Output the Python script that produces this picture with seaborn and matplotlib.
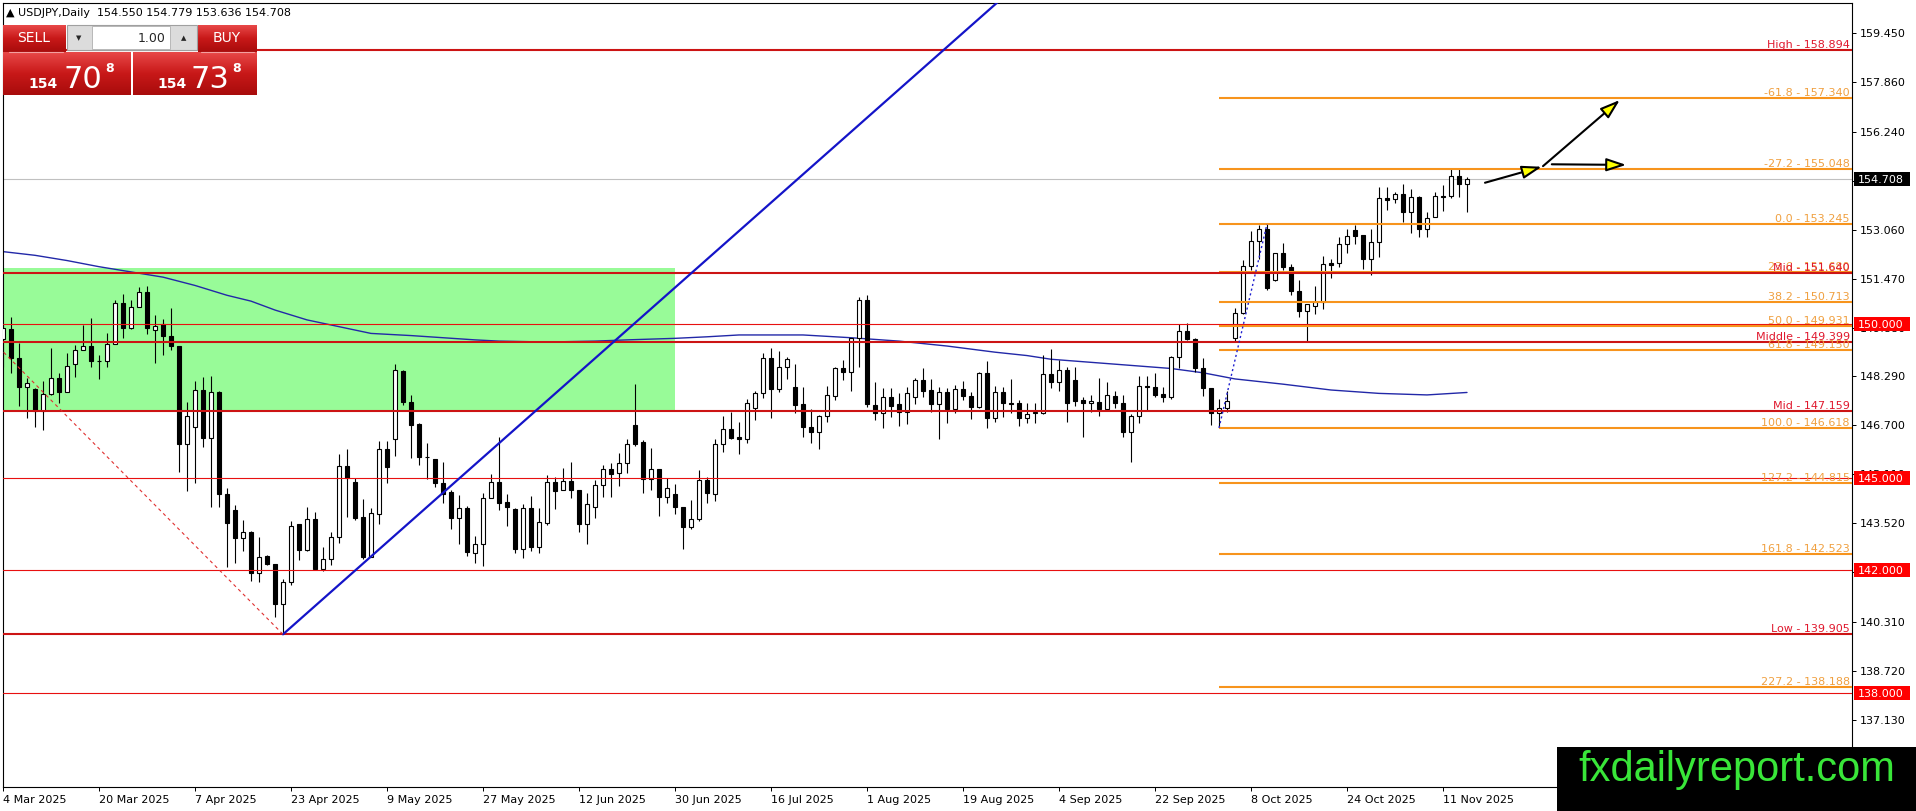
import numpy as np
import pandas as pd
import matplotlib
matplotlib.use('Agg')
import matplotlib.pyplot as plt
from matplotlib.patches import Rectangle
from matplotlib.colors import LinearSegmentedColormap
import seaborn as sns

# USDJPY daily candles, 4 Mar 2025 .. 14 Nov 2025
opens = [149.50, 149.82, 148.88, 147.96, 147.88, 147.18, 147.71, 148.23, 147.77, 148.68,
         149.14, 149.27, 148.80, 148.78, 149.335, 150.67, 149.88, 150.54, 151.03, 149.80,
         150.00, 149.62, 149.29, 146.08, 146.64, 147.84, 146.28, 147.77, 144.46, 143.95,
         143.03, 143.22, 141.89, 142.45, 142.18, 140.88, 141.60, 143.48, 142.65, 143.65,
         142.02, 142.34, 143.08, 145.39, 144.85, 143.71, 142.41, 143.81, 145.92, 146.25,
         148.47, 147.47, 146.74, 145.68, 145.60, 144.84, 144.52, 143.68, 144.00, 142.54,
         142.83, 144.33, 144.85, 144.20, 143.97, 142.68, 144.00, 142.76, 143.52, 144.85,
         144.60, 144.89, 144.60, 143.48, 144.03, 144.76, 145.27, 145.14, 145.47, 146.71,
         146.15, 144.94, 145.27, 144.38, 144.47, 144.03, 143.41, 143.64, 144.92, 144.46,
         146.08, 146.58, 146.33, 146.245, 147.25, 147.74, 148.88, 147.87, 148.59, 147.94,
         147.39, 146.66, 146.50, 147.00, 147.67, 148.55, 148.45, 149.53, 150.78, 147.36,
         147.09, 147.61, 147.38, 147.12, 147.63, 148.18, 147.85, 147.38, 147.77, 147.22,
         147.87, 147.665, 147.31, 148.39, 146.93, 147.77, 147.42, 147.42, 146.93, 147.09,
         147.11, 148.36, 148.10, 148.50, 148.18, 147.53, 147.42, 147.45, 147.22, 147.66,
         147.42, 146.47, 147.00, 147.99, 147.94, 147.71, 147.63, 148.91, 149.78, 149.51,
         148.58, 147.90, 147.11, 147.25, 149.53, 150.34, 151.89, 152.70, 153.09, 151.43,
         152.29, 151.84, 151.07, 150.43, 150.58, 150.72, 151.97, 151.97, 152.59, 153.05,
         152.89, 152.10, 152.65, 154.08, 154.05, 154.21, 153.65, 154.12, 153.08, 153.47,
         154.16, 154.16, 154.81, 154.55]
highs = [149.95, 150.21, 149.39, 148.23, 147.90, 148.14, 149.23, 148.39, 149.04, 149.31,
         149.96, 150.18, 148.99, 149.69, 150.78, 150.96, 150.78, 151.21, 151.23, 150.29,
         150.15, 150.51, 149.29, 147.45, 148.15, 148.28, 148.30, 147.83, 144.65, 144.11,
         143.62, 143.28, 143.08, 142.48, 142.18, 141.72, 143.59, 143.48, 144.03, 143.89,
         142.76, 143.22, 145.77, 145.92, 144.98, 144.29, 144.00, 146.19, 146.20, 148.69,
         148.50, 147.69, 146.77, 146.12, 145.60, 145.52, 144.60, 144.44, 144.09, 143.10,
         144.49, 145.12, 146.31, 144.46, 144.00, 144.14, 144.40, 144.00, 145.09, 145.01,
         145.32, 145.50, 144.60, 144.49, 144.92, 145.41, 145.46, 145.79, 146.26, 148.04,
         146.22, 145.95, 145.27, 144.98, 144.79, 144.05, 144.27, 145.25, 145.03, 146.26,
         147.00, 147.14, 146.80, 147.56, 147.82, 149.04, 149.20, 149.12, 148.91, 148.70,
         147.96, 147.22, 147.04, 147.98, 148.59, 148.83, 149.55, 150.89, 150.94, 148.12,
         147.90, 147.93, 147.74, 147.94, 148.25, 148.555, 148.21, 147.96, 147.93, 148.01,
         148.14, 147.80, 148.45, 148.79, 147.98, 147.96, 148.21, 147.53, 147.42, 147.42,
         148.99, 149.18, 148.83, 148.59, 148.59, 147.63, 147.69, 148.25, 148.10, 147.82,
         147.69, 147.06, 148.31, 148.31, 148.39, 147.96, 148.97, 149.99, 150.02, 149.53,
         148.88, 147.93, 147.55, 147.82, 150.51, 152.08, 153.02, 153.22, 153.245, 152.30,
         152.62, 151.94, 151.43, 150.66, 151.23, 152.21, 152.10, 152.84, 153.08, 153.22,
         152.89, 153.09, 154.46, 154.46, 154.30, 154.54, 154.38, 154.16, 153.63, 154.28,
         154.52, 155.03, 155.03, 154.779]
lows = [148.60, 148.41, 147.34, 146.95, 146.66, 146.55, 147.69, 147.44, 147.77, 148.28,
        149.14, 148.61, 148.20, 148.61, 149.335, 149.55, 149.82, 150.54, 149.67, 148.72,
        148.99, 149.15, 145.19, 144.58, 144.84, 145.99, 144.03, 144.03, 142.08, 142.24,
        142.63, 141.65, 141.62, 142.16, 140.48, 139.905, 141.51, 142.32, 142.63, 142.00,
        141.98, 142.16, 142.89, 143.73, 143.62, 142.34, 142.41, 143.49, 144.84, 145.70,
        147.36, 145.63, 145.41, 144.95, 144.69, 144.17, 143.32, 142.83, 142.45, 142.23,
        142.13, 144.33, 143.95, 143.44, 142.56, 142.40, 142.63, 142.56, 143.46, 143.98,
        144.60, 144.35, 143.22, 142.83, 143.68, 144.36, 144.36, 144.74, 145.14, 146.03,
        144.51, 144.60, 143.76, 144.19, 143.81, 142.68, 143.33, 143.60, 144.19, 144.25,
        145.84, 146.26, 145.77, 146.14, 146.88, 147.58, 146.93, 147.80, 148.20, 147.11,
        146.33, 146.14, 145.92, 146.82, 147.53, 148.18, 147.82, 148.61, 147.31, 146.88,
        146.63, 146.98, 146.69, 146.73, 147.38, 147.63, 147.12, 146.245, 146.77, 147.09,
        147.53, 146.90, 147.25, 146.60, 146.82, 146.98, 147.09, 146.69, 146.79, 146.79,
        147.06, 147.90, 147.82, 146.82, 147.34, 146.33, 147.12, 147.02, 147.20, 147.25,
        146.31, 145.50, 146.79, 147.20, 147.63, 147.47, 147.56, 148.55, 149.48, 148.45,
        147.66, 146.70, 146.618, 147.15, 149.40, 150.32, 151.75, 152.11, 151.10, 151.40,
        151.75, 150.94, 150.24, 149.42, 150.31, 150.47, 151.50, 151.84, 152.29, 152.59,
        151.77, 151.59, 152.19, 153.70, 153.94, 153.32, 152.97, 152.84, 152.84, 153.47,
        153.68, 154.08, 154.14, 153.636]
closes = [149.86, 148.88, 147.96, 148.07, 147.18, 147.72, 148.23, 147.77, 148.64, 149.14,
          149.27, 148.80, 148.78, 149.335, 150.67, 149.88, 150.54, 151.03, 149.86, 149.94,
          149.62, 149.29, 146.08, 147.00, 147.84, 146.28, 147.77, 144.46, 143.51, 143.03,
          143.22, 141.89, 142.43, 142.18, 140.88, 141.60, 143.44, 142.65, 143.66, 142.02,
          142.34, 143.08, 145.39, 144.98, 143.70, 142.41, 143.84, 145.92, 145.36, 148.50,
          147.47, 146.71, 145.68, 145.66, 144.84, 144.47, 143.68, 144.00, 142.57, 142.83,
          144.33, 144.85, 144.19, 144.06, 142.68, 144.00, 142.76, 143.55, 144.85, 144.58,
          144.89, 144.60, 143.48, 144.14, 144.76, 145.27, 145.12, 145.47, 146.11, 146.11,
          144.94, 145.27, 144.38, 144.65, 144.03, 143.41, 143.64, 144.92, 144.51, 146.08,
          146.58, 146.30, 146.25, 147.42, 147.74, 148.88, 147.87, 148.61, 148.85, 147.36,
          146.64, 146.50, 147.00, 147.69, 148.55, 148.45, 149.53, 150.78, 147.39, 147.09,
          147.61, 147.33, 147.12, 147.74, 148.18, 147.83, 147.38, 147.77, 147.22, 147.87,
          147.665, 147.31, 148.39, 146.93, 147.77, 147.42, 147.40, 146.93, 147.07, 147.15,
          148.36, 148.10, 148.50, 147.42, 147.50, 147.42, 147.49, 147.22, 147.69, 147.42,
          146.47, 147.00, 147.99, 147.96, 147.69, 147.63, 148.91, 149.78, 149.51, 148.58,
          147.93, 147.09, 147.25, 147.49, 150.34, 151.89, 152.70, 153.09, 151.18, 152.29,
          151.84, 151.07, 150.43, 150.65, 150.72, 151.94, 151.91, 152.59, 152.87, 152.87,
          152.10, 152.65, 154.08, 154.03, 154.21, 153.65, 154.12, 153.08, 153.43, 154.16,
          154.14, 154.81, 154.55, 154.708]

date_labels = ['4 Mar 2025', '20 Mar 2025', '7 Apr 2025', '23 Apr 2025', '9 May 2025',
               '27 May 2025', '12 Jun 2025', '30 Jun 2025', '16 Jul 2025', '1 Aug 2025',
               '19 Aug 2025', '4 Sep 2025', '22 Sep 2025', '8 Oct 2025', '24 Oct 2025',
               '11 Nov 2025']
bars_per_label = 12

# moving average (blue thin line), sampled at bar indices
ma_bars = [0, 4, 8, 12, 16, 20, 24, 28, 31, 34, 38, 42, 46, 51, 55, 59, 62, 66, 70, 74,
           78, 84, 88, 92, 100, 106, 112, 118, 124, 128, 131, 135, 139, 146, 150, 154,
           160, 166, 172, 178, 183]
ma_values = [152.35, 152.23, 152.06, 151.86, 151.69, 151.52, 151.25, 150.93, 150.74, 150.45,
             150.13, 149.91, 149.69, 149.62, 149.55, 149.48, 149.44, 149.42, 149.42, 149.44,
             149.48, 149.53, 149.58, 149.64, 149.64, 149.55, 149.44, 149.28, 149.08, 148.97,
             148.85, 148.77, 148.69, 148.55, 148.41, 148.21, 148.04, 147.85, 147.74, 147.69,
             147.77]

price_ticks = [159.45, 157.86, 156.24, 154.65, 153.06, 151.47, 149.88, 148.29, 146.70,
               145.11, 143.52, 141.93, 140.31, 138.72, 137.13]

red_levels = [158.894, 151.640, 149.399, 147.159, 139.905]
red_names = ['High - 158.894', 'Mid - 151.640', 'Middle - 149.399', 'Mid - 147.159',
             'Low - 139.905']
round_levels = [150.0, 145.0, 142.0, 138.0]
fib_levels = [157.340, 155.048, 153.245, 151.680, 150.713, 149.931, 149.150, 146.618,
              144.815, 142.523, 138.188]
fib_names = ['-61.8 - 157.340', '-27.2 - 155.048', '0.0 - 153.245', '23.6 - 151.680',
             '38.2 - 150.713', '50.0 - 149.931', '61.8 - 149.150', '100.0 - 146.618',
             '127.2 - 144.815', '161.8 - 142.523', '227.2 - 138.188']
fib_start_bar = 152
fib_trend_bars = [152, 158]
fib_trend_prices = [146.618, 153.245]

zone_bars = [-3, 84]
zone_prices = [147.159, 151.81]

trend_up_bars = [35, 78]
trend_up_prices = [139.905, 149.80]
trend_down_bars = [-37.3, 35]
trend_down_prices = [158.894, 139.905]

last_price = 154.708
arrow_starts = [(185.25, 154.59), (192.5, 155.13), (193.6, 155.19)]
arrow_ends = [(192.34, 155.11), (202.1, 157.28), (202.9, 155.17)]

df = pd.DataFrame({'open': opens, 'high': highs, 'low': lows, 'close': closes})
df['bar'] = np.arange(len(df))

sns.set_theme(style='white')
plt.rcParams['font.family'] = ['DejaVu Sans']

W, H = 1916, 811
fig = plt.figure(figsize=(W / 100, H / 100), dpi=100)
fig.patch.set_facecolor('white')
ax = fig.add_axes([2.5 / W, (H - 787) / H, (1852 - 2.5) / W, (787 - 3) / H])
ax.set_facecolor('white')

# zone
ax.add_patch(Rectangle((zone_bars[0], zone_prices[0]), zone_bars[1] - zone_bars[0],
                       zone_prices[1] - zone_prices[0], fc='#98fb98', ec='none', zorder=0.5))

ax.axhline(last_price, color='#c0c0c0', lw=0.8, zorder=1.5)

# moving average
sns.lineplot(x=ma_bars, y=ma_values, color='#2228a8', lw=1.0, ax=ax, zorder=2)

# candles
up = df['close'] >= df['open']
body_lo = df[['open', 'close']].min(axis=1)
body_h = (df['close'] - df['open']).abs().clip(lower=0.015)
ax.vlines(df['bar'], df['low'], df['high'], color='black', lw=0.8, zorder=3)
ax.bar(df['bar'], body_h, bottom=body_lo, width=0.55,
       color=np.where(up, 'white', 'black'), edgecolor='black', linewidth=0.8, zorder=4)

# horizontal levels
for lv in round_levels:
    ax.axhline(lv, color='#e81010', lw=0.8, zorder=5)
ax.hlines(fib_levels, fib_start_bar, 260, color='#f7941d', lw=1.5, zorder=5)
for lv in red_levels:
    ax.axhline(lv, color='#cc1414', lw=1.5, zorder=5)

# trend lines
slope = (trend_up_prices[1] - trend_up_prices[0]) / (trend_up_bars[1] - trend_up_bars[0])
x_far = 150
ax.plot([trend_up_bars[0], x_far],
        [trend_up_prices[0], trend_up_prices[0] + slope * (x_far - trend_up_bars[0])],
        color='#1414c8', lw=1.6, zorder=5)
ax.plot(trend_down_bars, trend_down_prices, color='#e03030', lw=0.8, ls=(0, (3, 3)), zorder=5)
ax.plot(fib_trend_bars, fib_trend_prices, color='#2020d0', lw=1.0, ls=(0, (1.5, 2)), zorder=5)

# level labels
ytrans = ax.get_yaxis_transform()
for lv, name in zip(fib_levels, fib_names):
    ax.text(0.9989, lv, name, transform=ytrans, ha='right', va='bottom',
            color='#f0a040', fontsize=8, zorder=6)
for lv, name in zip(red_levels, red_names):
    ax.text(0.9989, lv, name, transform=ytrans, ha='right', va='bottom',
            color='#e0182d', fontsize=8, zorder=6)

# arrows
for (x0, y0), (x1, y1) in zip(arrow_starts, arrow_ends):
    ax.annotate('', xy=(x1, y1), xytext=(x0, y0), zorder=7, annotation_clip=False,
                arrowprops=dict(arrowstyle='-|>,head_length=1.0,head_width=0.33',
                                fc='#ffff00', ec='black', lw=1.5, shrinkA=0, shrinkB=0))

ax.set_xlim(-0.0625, 231.125)
ax.set_ylim(134.94, 160.435)

ax.yaxis.tick_right()
ax.set_yticks(price_ticks)
ax.set_yticklabels([f'{t:.3f}' for t in price_ticks])
ax.tick_params(axis='y', right=True, left=False, labelright=True, labelleft=False,
               length=3, width=0.72, pad=2.5, labelsize=8, colors='black')
ax.set_xticks([i * bars_per_label for i in range(len(date_labels))])
ax.set_xticklabels(date_labels, ha='left')
ax.tick_params(axis='x', bottom=True, length=3, width=0.72, pad=3, labelsize=8, colors='black')
ax.set_xlabel('')
ax.set_ylabel('')
for sp in ax.spines.values():
    sp.set_color('black')
    sp.set_linewidth(0.8)

# overlay in pixel coordinates
ov = fig.add_axes([0, 0, 1, 1], zorder=10)
ov.patch.set_visible(False)


def py(price):
    return H - ax.transData.transform((0, price))[1]


for lv in round_levels:
    y = py(lv)
    ov.add_patch(Rectangle((1854, y - 7), 56, 14, fc='#ff0000', ec='none'))
    ov.text(1858, y, f'{lv:.3f}', color='white', fontsize=8, va='center_baseline', ha='left')
y = py(last_price)
ov.add_patch(Rectangle((1854, y - 7), 56, 14, fc='black', ec='none'))
ov.text(1858, y, f'{last_price:.3f}', color='white', fontsize=8, va='center_baseline', ha='left')

# watermark
ov.add_patch(Rectangle((1557, 747), W - 1557, H - 747, fc='black', ec='none'))
ov.text(1737, 770, 'fxdailyreport.com', color='#39e639', fontsize=30,
        family='Liberation Sans', ha='center', va='center')

# title line
ov.text(6, 13, '\u25b2 USDJPY,Daily  154.550 154.779 153.636 154.708', fontsize=8,
        va='center', ha='left', color='black')

# one-click trading panel
panel_cmap = LinearSegmentedColormap.from_list('panel', ['#e84848', '#c81818', '#a80c0c'])
grad = np.linspace(0, 1, 64).reshape(-1, 1)
for x0, y0, x1, y1 in [(3, 25, 66, 52), (198, 25, 257, 52), (3, 52, 131, 95), (133, 52, 257, 95)]:
    ov.imshow(grad, cmap=panel_cmap, extent=(x0, x1, y1, y0), aspect='auto', zorder=2)
ov.add_patch(Rectangle((67, 25), 130, 25, fc='#dcdcdc', ec='#a0a0a0', lw=0.8, zorder=2))
ov.add_patch(Rectangle((92, 26), 78, 23, fc='white', ec='#b0b0b0', lw=0.6, zorder=3))
ov.plot([9, 63], [51.5, 51.5], color='#f4a0a0', lw=0.8, zorder=4)
ov.plot([201, 254], [51.5, 51.5], color='#f4a0a0', lw=0.8, zorder=4)
ov.text(79, 38, '\u25bc', fontsize=5, ha='center', va='center', zorder=4)
ov.text(184, 38, '\u25b2', fontsize=5, ha='center', va='center', zorder=4)
ov.text(166, 38, '1.00', fontsize=9, ha='right', va='center', zorder=4)
ov.text(34, 38, 'SELL', fontsize=10, color='white', ha='center', va='center', zorder=4)
ov.text(227, 38, 'BUY', fontsize=10, color='white', ha='center', va='center', zorder=4)
ov.text(28, 88, '154', fontsize=10, color='white', weight='bold', va='baseline', zorder=4)
ov.text(63, 88, '70', fontsize=22, color='white', va='baseline', zorder=4)
ov.text(105, 72, '8', fontsize=9, color='white', weight='bold', va='baseline', zorder=4)
ov.text(157, 88, '154', fontsize=10, color='white', weight='bold', va='baseline', zorder=4)
ov.text(191, 88, '73', fontsize=22, color='white', va='baseline', zorder=4)
ov.text(232, 72, '8', fontsize=9, color='white', weight='bold', va='baseline', zorder=4)

ov.set_xlim(0, W)
ov.set_ylim(H, 0)
ov.axis('off')

fig.savefig('out.png', dpi=100)
